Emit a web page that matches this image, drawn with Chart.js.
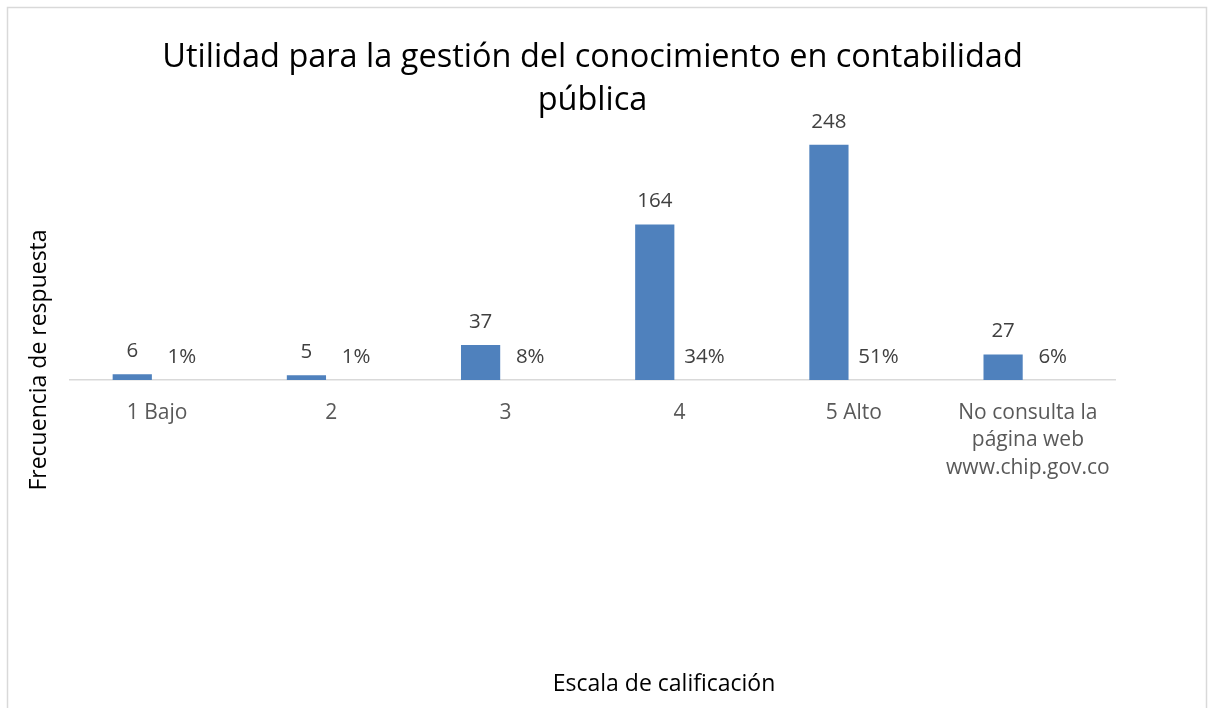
<!DOCTYPE html>
<html>
<head>
<meta charset="utf-8">
<script src="https://cdn.jsdelivr.net/npm/chart.js@4.4.1/dist/chart.umd.min.js"></script>
<style>
    html, body { margin: 0; padding: 0; background: #fff; }
    #wrap { width: 1209px; height: 708px; }
</style>
</head>
<body>
<div id="wrap"><canvas id="chart"></canvas></div>
<script>
const categories = ['1 Bajo', '2', '3', '4', '5 Alto', ['No consulta la', 'página web', 'www.chip.gov.co']];
const frequency = [6, 5, 37, 164, 248, 27];
const share = [0.012, 0.010, 0.076, 0.337, 0.509, 0.055];

const FONT = '"Open Sans", Lato, sans-serif';

// frame around the chart, like the Excel chart border
const framePlugin = {
    id: 'frame',
    beforeDraw(chart) {
        const ctx = chart.ctx;
        ctx.save();
        ctx.strokeStyle = '#d9d9d9';
        ctx.lineWidth = 1.5;
        ctx.strokeRect(7.5, 7.5, 1199, 720);
        ctx.restore();
    }
};

// value labels above bars + axis titles
const labelsPlugin = {
    id: 'valueLabels',
    afterDatasetsDraw(chart) {
        const ctx = chart.ctx;
        ctx.save();
        ctx.fillStyle = '#404040';
        ctx.font = '20.5px ' + FONT;
        ctx.textAlign = 'center';
        ctx.textBaseline = 'alphabetic';
        chart.data.datasets.forEach((ds, i) => {
            const meta = chart.getDatasetMeta(i);
            meta.data.forEach((bar, j) => {
                const v = ds.data[j];
                const txt = i === 0 ? String(v) : Math.round(v * 100) + '%';
                ctx.fillText(txt, bar.x, bar.y - 17);
            });
        });

        // axis titles
        ctx.fillStyle = '#000000';
        ctx.font = '23px ' + FONT;
        ctx.fillText('Escala de calificación', 664, 691);
        ctx.translate(46, 360);
        ctx.rotate(-Math.PI / 2);
        ctx.fillText('Frecuencia de respuesta', 0, 0);
        ctx.restore();
    }
};

new Chart(document.getElementById('chart'), {
    type: 'bar',
    data: {
        labels: categories,
        datasets: [
            {
                label: 'Frecuencia',
                data: frequency,
                backgroundColor: '#4f81bd',
                categoryPercentage: 0.57,
                barPercentage: 0.79
            },
            {
                label: 'Porcentaje',
                data: share,
                backgroundColor: 'rgba(0,0,0,0)',
                categoryPercentage: 0.57,
                barPercentage: 0.79
            }
        ]
    },
    options: {
        responsive: true,
        maintainAspectRatio: false,
        animation: false,
        layout: { padding: { left: 70, right: 94, top: 0, bottom: 0 } },
        plugins: {
            legend: { display: false },
            tooltip: { enabled: false },
            title: {
                display: true,
                text: ['Utilidad para la gestión del conocimiento en contabilidad', 'pública'],
                color: '#000000',
                font: { family: FONT, size: 32.5, weight: 'normal', lineHeight: 1.323 },
                padding: { top: 36, bottom: 0 }
            }
        },
        scales: {
            x: {
                grid: { display: false },
                border: { display: true, color: '#d9d9d9', width: 1.5 },
                ticks: {
                    color: '#595959',
                    font: { family: FONT, size: 21, lineHeight: 1.31 },
                    padding: 11,
                    maxRotation: 0,
                    autoSkip: false
                },
                afterFit(scale) { scale.height = 328; }
            },
            y: {
                display: false,
                min: 0,
                max: 272
            }
        }
    },
    plugins: [framePlugin, labelsPlugin]
});
</script>
</body>
</html>
